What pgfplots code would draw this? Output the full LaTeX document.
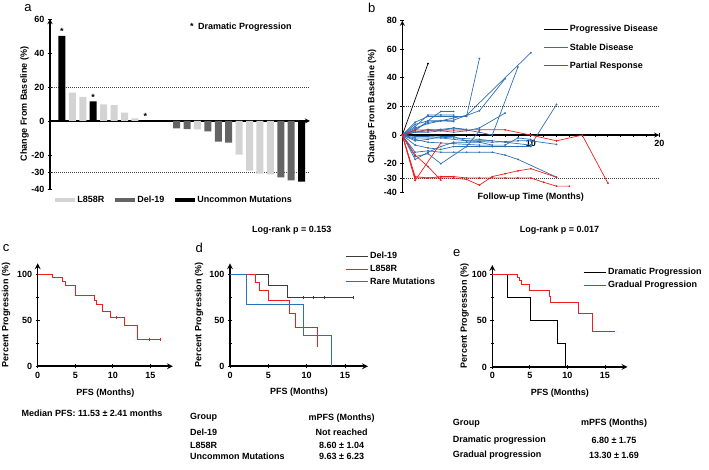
\documentclass[border=0pt]{standalone}
\usepackage{fontspec}
\setmainfont{Liberation Sans}
\usepackage{pgfplots}
\pgfplotsset{compat=1.18}
\definecolor{lgray}{RGB}{211,211,211}
\definecolor{dgray}{RGB}{100,100,100}
\definecolor{sdblue}{RGB}{46,112,180}
\definecolor{prred}{RGB}{240,30,30}
\definecolor{kmgray}{RGB}{60,60,60}
\newcommand\fs{\fontsize{9}{10.8}\selectfont\bfseries}
\tikzset{dot/.style={dash pattern=on 1pt off 1pt, line width=0.6pt, black!75}}
\pgfplotsset{
 base/.style={scale only axis, clip=false,
   /pgf/number format/assume math mode=true,
   tick label style={font=\fs}, legend style={font=\fs},
   tick align=outside, major tick length=4pt, minor tick length=3pt,
   tick style={black, line width=0.9pt},
   axis line style={black, line width=1.3pt},
   every inner x axis line/.append style={-},
   every outer x axis line/.append style={-},
   every inner y axis line/.append style={-},
   every outer y axis line/.append style={-},
   every axis y label/.style={rotate=90, anchor=center, font=\fs},
   every axis x label/.style={anchor=center, font=\fs},
 },
 km/.style={base, axis lines=left, xmin=0, xmax=18, ymin=0,
   axis line style={black, line width=1.6pt},
   xtick={0,5,10,15}, ytick={0,50,100}, minor ytick={25,75},
   ylabel={Percent Progression (\%)}, xlabel={PFS (Months)},
   legend style={draw=none, fill=none, inner sep=0pt, cells={anchor=west}, row sep=1pt},
   legend image code/.code={\draw[#1, mark=none] (0pt,0pt) -- (22pt,0pt);},
 },
}
\begin{document}
\begin{tikzpicture}
\path[use as bounding box] (0,0) rectangle (709pt,470pt);
% ---------------- panel a
\begin{axis}[base, at={(50pt,281pt)}, anchor=south west, width=260pt, height=170pt,
 xmin=-1.15, xmax=23.8, ymin=-40, ymax=60,
 axis x line=middle, axis y line=left,
 xtick=\empty, ytick={-40,-30,-20,0,20,40,60},
 ylabel={Change From Baseline (\%)}, ylabel style={at={(axis description cs:-0.098,0.5)}},
 ybar, bar width=7pt,
 legend style={at={(axis description cs:0.479,-0.065)}, anchor=center, draw=none, fill=none,
   legend columns=3, /tikz/every even column/.append style={column sep=9pt}},
]
\draw[dot] (axis cs:-1.15,20) -- (axis cs:23.8,20);
\draw[dot] (axis cs:-1.15,-30) -- (axis cs:23.8,-30);
\addplot[fill=lgray, draw=none, bar shift=0pt,
  legend image code/.code={\fill[lgray] (0pt,-2.2pt) rectangle (20pt,2.2pt);}]
  coordinates {(1,16.7) (2,14.2) (4,9.8) (5,9.4) (6,4.9) (7,1.6) (13,-4.9) (17,-19.8) (18,-29.2) (19,-31) (20,-31.4)};
\addlegendentry{L858R}
\addplot[fill=dgray, draw=none, bar shift=0pt,
  legend image code/.code={\fill[dgray] (0pt,-2.2pt) rectangle (20pt,2.2pt);}]
  coordinates {(11,-4.4) (12,-4.8) (14,-6.1) (15,-12.2) (16,-12.7) (21,-33.2) (22,-34.9)};
\addlegendentry{Del-19}
\addplot[fill=black, draw=none, bar shift=0pt,
  legend image code/.code={\fill[black] (0pt,-2.2pt) rectangle (20pt,2.2pt);}]
  coordinates {(0,50) (3,11.6) (23,-35.7)};
\addlegendentry{Uncommon Mutations}
\node[font=\fs, above, inner sep=1pt] at (axis cs:0,50) {*};
\node[font=\fs, above, inner sep=1pt] at (axis cs:3,11.6) {*};
\node[font=\fs, above, inner sep=1pt] at (axis cs:8,0) {*};
\end{axis}
% ---------------- panel b
\begin{axis}[base, at={(402.3pt,277.7pt)}, anchor=south west, width=257pt, height=171.6pt,
 xmin=0, xmax=20, ymin=-40, ymax=80,
 axis x line=middle, axis y line=left,
 xtick={10,20}, minor xtick={1,2,...,19},
 ytick={-40,-30,-20,0,20,40,60,80},
 ylabel={Change From Baseline (\%)}, ylabel style={at={(axis description cs:-0.118,0.5)}},
 legend style={at={(axis description cs:0.5475,0.985)}, anchor=north west, draw=none, fill=none,
   inner sep=0pt, cells={anchor=west}, row sep=6pt},
 legend image code/.code={\draw[#1, mark=none] (0pt,0pt) -- (24pt,0pt);},
 every axis plot/.append style={line width=0.7pt, mark=*, mark size=0.5pt},
]
\draw[dot] (axis cs:0,20) -- (axis cs:20,20);
\draw[dot] (axis cs:0,-30) -- (axis cs:20,-30);
\addplot[black] coordinates {(0,0) (2,50)};
\addlegendentry{Progressive Disease}
\addplot[sdblue] coordinates {(0,0) (1,9) (2,13) (3,13) (4,13) (5,13) (6,53.5)};
\addlegendentry{Stable Disease}
\addplot[sdblue, forget plot] coordinates {(0,0) (1,4) (2,9) (3,10) (4,12) (5,13.8) (10,57.6)};
\addplot[sdblue, forget plot] coordinates {(0,0) (1,5) (2,8) (3,10) (4,10.5) (6,17) (8,39.4)};
\addplot[sdblue, forget plot] coordinates {(0,0) (1,2) (2,3) (3,4) (4,5) (6,2) (7,0) (9,47.6)};
\addplot[sdblue, forget plot] coordinates {(0,0) (1,3) (2,10) (3,16.5) (4,16.5)};
\addplot[sdblue, forget plot] coordinates {(0,0) (1,6) (2,14) (3,14) (4,14)};
\addplot[sdblue, forget plot] coordinates {(0,0) (2,4) (4,2) (5,3) (6,5) (8,15.4)};
\addplot[sdblue, forget plot] coordinates {(0,0) (1,-1) (2,-1) (4,-2) (6,-3) (8,-5) (10,-7) (12,21.4)};
\addplot[sdblue, forget plot] coordinates {(0,0) (1,-2) (3,-2) (5,-4) (7,-5) (9,-4) (10,-4) (12,-6.5)};
\addplot[sdblue, forget plot] coordinates {(0,0) (1,-3) (2,-5) (4,-6) (6,-7) (8,-7) (9,-2) (10,-3)};
\addplot[sdblue, forget plot] coordinates {(0,0) (1,-7) (2,-9) (3,-10) (4,-8) (5,-8) (6,-8) (7,-8) (8,-8) (9,-8) (10,-8)};
\addplot[sdblue, forget plot] coordinates {(0,0) (1,-12) (2,-11) (3,-12) (4,-12) (5,-12) (6,-12) (7,-12) (8,-14) (9,-17) (12,-29.4)};
\addplot[sdblue, forget plot] coordinates {(0,0) (1,-15) (2,-13) (3,-20) (5,-8) (6,3)};
\addplot[sdblue, forget plot] coordinates {(0,0) (1,-17) (2,-12) (3,-8) (4,-5) (5,-5) (6,-5) (7,-7)};
\addplot[sdblue, forget plot] coordinates {(0,0) (1,2) (2,2) (3,3) (4,5) (5,4)};
\addplot[sdblue, forget plot] coordinates {(0,0) (1,-4) (2,-3) (3,-1) (4,-1) (5,-4) (7,-4)};
\addplot[sdblue, forget plot] coordinates {(0,0) (1,7.5) (2,10) (3,10) (4,9.5)};
\addplot[prred] coordinates {(0,0) (1,3.5) (2,3.5) (4,3.5) (6,3.7) (8,3.7) (10,0) (12,-4) (14,0) (16,-33.6)};
\addlegendentry{Partial Response}
\addplot[prred, forget plot] coordinates {(0,0) (1,-31.7) (3,-5.5)};
\addplot[prred, forget plot] coordinates {(0,0) (1,-14) (2,-22) (3,-31.5)};
\addplot[prred, forget plot] coordinates {(0,0) (1,-29) (2,-30) (3,-30) (4,-30) (5,-31) (6,-35) (7,-29) (8,-27) (9,-25) (10,-23.5) (12,-29.5)};
\addplot[prred, forget plot] coordinates {(0,0) (1,-30) (2,-30) (3,-29) (4,-29) (5,-30) (6,-30) (7,-30) (8,-30) (9,-30) (10,-30) (11,-33) (12,-35.7) (13,-35.7)};
\node[font=\fs] at (axis description cs:0.5,-0.031) {Follow-up Time (Months)};
\end{axis}
% ---------------- panel c
\begin{axis}[km, at={(37.7pt,103.7pt)}, anchor=south west, width=135.2pt, height=103pt, ymax=111.6,
 ylabel style={at={(axis description cs:-0.234,0.5)}},
 xlabel style={at={(axis description cs:0.5,-0.262)}}]
\addplot[prred, line width=0.9pt, const plot] coordinates {(0,100) (1.96,95.8) (3.24,91.7) (3.73,87.5) (5.02,77.3) (7.55,71.5) (7.87,66.8) (8.62,59.9) (9.69,52.7) (11.53,44.4) (13.29,29.2) (16.36,29.2)};
\addplot[prred, only marks, mark=|, mark size=1.5pt] coordinates {(10.5,52.7) (14.8,29.2) (16.36,29.2)};
\end{axis}
% ---------------- panel d
\begin{axis}[km, at={(230pt,103.7pt)}, anchor=south west, width=138pt, height=103pt, ymax=111.6,
 ylabel style={at={(axis description cs:-0.225,0.5)}},
 xlabel style={at={(axis description cs:0.5,-0.247)}},
 legend style={at={(axis description cs:0.833,1.13)}, anchor=north west}]
\addplot[kmgray, line width=0.9pt, const plot] coordinates {(0,100) (5.0,87.5) (7.47,75) (16.1,75)};
\addlegendentry{Del-19}
\addplot[prred, line width=0.9pt, const plot] coordinates {(0,100) (3.26,91.3) (3.83,82.3) (5.0,71.1) (7.69,57) (8.48,42.6) (11.39,21)};
\addlegendentry{L858R}
\addplot[sdblue, line width=0.9pt, const plot] coordinates {(0,100) (2.09,66.8) (9.57,33.2) (13.17,0)};
\addlegendentry{Rare Mutations}
\addplot[kmgray, only marks, mark=|, mark size=1.5pt, forget plot] coordinates {(9.6,75) (10.9,75) (12.3,75) (16.1,75)};
\end{axis}
% ---------------- panel e
\begin{axis}[km, at={(492.3pt,103pt)}, anchor=south west, width=135.2pt, height=102pt, ymax=110.5,
 ylabel style={at={(axis description cs:-0.206,0.5)}},
 xlabel style={at={(axis description cs:0.5,-0.258)}},
 legend style={at={(axis description cs:0.671,0.99)}, anchor=north west}]
\addplot[black, line width=0.9pt, const plot] coordinates {(0,100) (2.0,75) (5.06,50) (8.62,25) (9.72,0)};
\addlegendentry{Dramatic Progression}
\addplot[prred, line width=0.9pt, const plot] coordinates {(0,100) (3.33,97.5) (3.64,93.8) (3.87,89.1) (4.97,82.9) (7.55,76.4) (7.73,69.5) (11.5,57.5) (13.3,38.5) (16.3,38.5)};
\addlegendentry{Gradual Progression}
\end{axis}
% ---------------- text
\node[font=\fontsize{13}{15}\selectfont] at (28pt,462pt) {a};
\node[font=\fontsize{13}{15}\selectfont] at (371.7pt,461.7pt) {b};
\node[font=\fontsize{13}{15}\selectfont] at (6pt,221.7pt) {c};
\node[font=\fontsize{13}{15}\selectfont] at (199.3pt,221.7pt) {d};
\node[font=\fontsize{13}{15}\selectfont] at (456.7pt,216.7pt) {e};
\node[font=\fs, anchor=west, inner sep=0pt] at (190pt,443pt) {*\hspace{4.5pt}Dramatic Progression};
\node[font=\fs] at (291.7pt,240pt) {Log-rank p = 0.153};
\node[font=\fs] at (559.5pt,240pt) {Log-rank p = 0.017};
\node[font=\fs] at (92pt,57pt) {Median PFS: 11.53 ± 2.41 months};
\begin{scope}[every node/.style={font=\fs, inner sep=0pt}]
\node[anchor=west] at (190pt,52.3pt) {Group};
\node[anchor=west] at (190pt,37.3pt) {Del-19};
\node[anchor=west] at (190pt,25pt) {L858R};
\node[anchor=west] at (190pt,13.3pt) {Uncommon Mutations};
\node at (341.7pt,52.3pt) {mPFS (Months)};
\node at (341.7pt,37.3pt) {Not reached};
\node at (341.7pt,25pt) {8.60 ± 1.04};
\node at (341.7pt,13.3pt) {9.63 ± 6.23};
\node[anchor=west] at (452.7pt,46.7pt) {Group};
\node[anchor=west] at (452.7pt,30pt) {Dramatic progression};
\node[anchor=west] at (452.7pt,15pt) {Gradual progression};
\node at (614pt,46.7pt) {mPFS (Months)};
\node at (614pt,30pt) {6.80 ± 1.75};
\node at (614pt,15pt) {13.30 ± 1.69};
\end{scope}
\end{tikzpicture}
\end{document}
